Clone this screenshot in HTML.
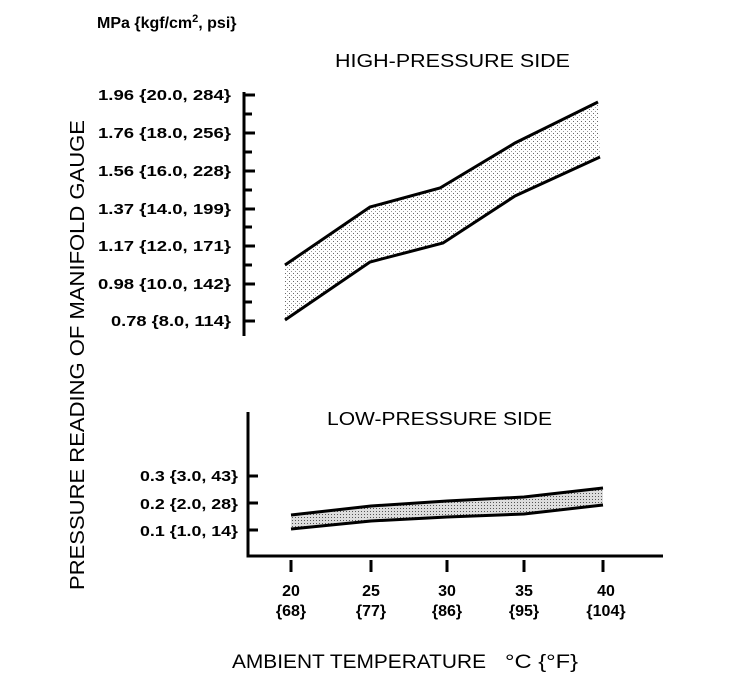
<!DOCTYPE html>
<html><head><style>body{margin:0;background:#fff}svg{display:block}</style></head><body>
<svg width="752" height="686" viewBox="0 0 752 686" xmlns="http://www.w3.org/2000/svg" font-family="Liberation Sans, sans-serif">
<defs><pattern id="dots" width="4" height="4" patternUnits="userSpaceOnUse"><rect width="4" height="4" fill="#fff"/><rect x="1" y="1" width="1" height="1" fill="#666"/><rect x="3" y="3" width="1" height="1" fill="#999"/></pattern>
<pattern id="dots2" width="3" height="3" patternUnits="userSpaceOnUse"><rect width="3" height="3" fill="#ddd"/><rect x="1" y="1" width="1" height="1" fill="#555"/></pattern></defs>
<text x="97" y="28" font-size="16" font-weight="bold">MPa {kgf/cm<tspan font-size="11" dy="-6">2</tspan><tspan dy="6">, psi}</tspan></text>
<text x="335" y="67" font-size="18" textLength="235" lengthAdjust="spacingAndGlyphs">HIGH-PRESSURE SIDE</text>
<text x="327" y="425" font-size="18" textLength="225" lengthAdjust="spacingAndGlyphs">LOW-PRESSURE SIDE</text>
<text transform="translate(84,355) rotate(-90)" font-size="20" text-anchor="middle" textLength="470" lengthAdjust="spacingAndGlyphs">PRESSURE READING OF MANIFOLD GAUGE</text>
<text x="232" y="668" font-size="19" textLength="254" lengthAdjust="spacingAndGlyphs">AMBIENT TEMPERATURE</text>
<text x="505" y="668" font-size="19" textLength="73" lengthAdjust="spacingAndGlyphs">°C {°F}</text>
<g font-size="15" font-weight="bold" text-anchor="end">
<text x="231" y="100" textLength="133" lengthAdjust="spacingAndGlyphs">1.96 {20.0, 284}</text>
<text x="231" y="138" textLength="133" lengthAdjust="spacingAndGlyphs">1.76 {18.0, 256}</text>
<text x="231" y="176" textLength="133" lengthAdjust="spacingAndGlyphs">1.56 {16.0, 228}</text>
<text x="231" y="214" textLength="133" lengthAdjust="spacingAndGlyphs">1.37 {14.0, 199}</text>
<text x="231" y="251" textLength="133" lengthAdjust="spacingAndGlyphs">1.17 {12.0, 171}</text>
<text x="231" y="289" textLength="133" lengthAdjust="spacingAndGlyphs">0.98 {10.0, 142}</text>
<text x="231" y="326" textLength="120" lengthAdjust="spacingAndGlyphs">0.78 {8.0, 114}</text>
<text x="238" y="481" textLength="98" lengthAdjust="spacingAndGlyphs">0.3 {3.0, 43}</text>
<text x="238" y="509" textLength="98" lengthAdjust="spacingAndGlyphs">0.2 {2.0, 28}</text>
<text x="238" y="536" textLength="98" lengthAdjust="spacingAndGlyphs">0.1 {1.0, 14}</text>
</g>
<g stroke="#000" stroke-width="3" fill="none">
<path d="M244 92V336"/>
<path d="M244 95h11M244 114h8M244 133h11M244 152h8M244 171h11M244 190h8M244 209h11M244 227h8M244 246h11M244 265h8M244 284h11M244 302h8M244 321h11"/>
<path d="M248 412V556H663"/>
<path d="M248 476h10M248 503h10M248 530h10"/>
<path d="M291 560v12M371 560v12M447 560v12M524 560v12M603 560v12"/>
</g>
<path d="M285 265L370 207L440 188L515 143L598 102L600 157L515 196L443 243L370 262L285 320Z" fill="url(#dots)"/>
<path d="M285 265L370 207L440 188L515 143L598 102M285 320L370 262L443 243L515 196L600 157" stroke="#000" stroke-width="3" fill="none"/>
<path d="M291 515L371 506L447 501L524 497L603 488L603 505L524 514L447 517L371 521L291 529Z" fill="url(#dots2)"/>
<path d="M291 515L371 506L447 501L524 497L603 488M291 529L371 521L447 517L524 514L603 505" stroke="#000" stroke-width="3" fill="none"/>
<g font-size="16" font-weight="bold" text-anchor="middle">
<text x="291" y="596">20</text><text x="291" y="616">{68}</text>
<text x="371" y="596">25</text><text x="371" y="616">{77}</text>
<text x="447" y="596">30</text><text x="447" y="616">{86}</text>
<text x="524" y="596">35</text><text x="524" y="616">{95}</text>
<text x="606" y="596">40</text><text x="606" y="616">{104}</text>
</g>
</svg>
</body></html>
